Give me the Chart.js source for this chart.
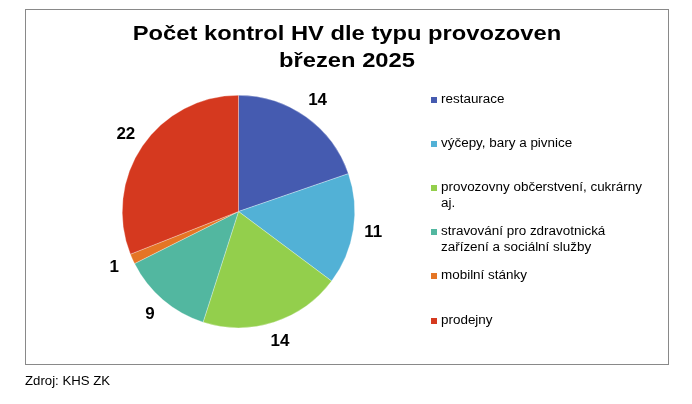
<!DOCTYPE html>
<html>
<head>
<meta charset="utf-8">
<script src="https://cdn.jsdelivr.net/npm/chart.js@4.4.1/dist/chart.umd.min.js"></script>
<style>
  html, body { margin:0; padding:0; background:#fff; }
  body { width:692px; height:404px; position:relative; overflow:hidden; font-family:"Liberation Sans", Arial, sans-serif; }
  #frame { position:absolute; left:25px; top:9px; width:642px; height:354px; border:1px solid #898989; }
  #chart { position:absolute; left:0; top:0; }
  .title { position:absolute; left:347px; top:20px; transform:translateX(-50%) scaleX(1.13); font-weight:bold; font-size:21px; line-height:26.6px; text-align:center; white-space:nowrap; color:#000; }
  .leg-item { position:absolute; left:431px; }
  .leg-box { position:absolute; left:0; width:6px; height:6px; }
  .leg-text { position:absolute; left:10px; width:185px; font-size:12px; line-height:16px; color:#000; transform:scaleX(1.12); transform-origin:left top; }
  .source { position:absolute; left:25px; top:374px; font-size:12px; line-height:14px; transform:scaleX(1.1); transform-origin:left top; color:#000; }
</style>
</head>
<body>
<div id="frame"></div>
<canvas id="chart" width="692" height="404"></canvas>
<div class="title" id="title"></div>
<div id="legend"></div>
<div class="source" id="source"></div>
<script>
const titleLines = ["Počet kontrol HV dle typu provozoven", "březen 2025"];
const categories = ["restaurace", "výčepy, bary a pivnice", "provozovny občerstvení, cukrárny aj.", "stravování pro zdravotnická zařízení a sociální služby", "mobilní stánky", "prodejny"];
const values = [14, 11, 14, 9, 1, 22];
const colors = ["#455BB0", "#52B1D6", "#93CF4C", "#52B7A0", "#E57525", "#D5391F"];
const sourceText = "Zdroj: KHS ZK";

document.getElementById('title').innerHTML = titleLines.join('<br>');
document.getElementById('source').textContent = sourceText;

const legend = document.getElementById('legend');
categories.forEach((c, i) => {
  const cy = 99.5 + 44.2 * i;
  const item = document.createElement('div');
  item.className = 'leg-item';
  item.style.top = cy + 'px';
  const box = document.createElement('div');
  box.className = 'leg-box';
  box.style.top = '-3px';
  box.style.background = colors[i];
  const txt = document.createElement('div');
  txt.className = 'leg-text';
  txt.style.top = '-9px';
  txt.textContent = c;
  item.appendChild(box); item.appendChild(txt);
  legend.appendChild(item);
});

const labelPlugin = {
  id: 'outLabels',
  afterDatasetsDraw(chart) {
    const ctx = chart.ctx;
    const meta = chart.getDatasetMeta(0);
    ctx.save();
    ctx.font = 'bold 16px "Liberation Sans", Arial, sans-serif';
    ctx.fillStyle = '#000';
    ctx.textAlign = 'center';
    ctx.textBaseline = 'middle';
    meta.data.forEach((arc, i) => {
      const p = arc.getProps(['x','y','startAngle','endAngle','outerRadius'], true);
      const mid = (p.startAngle + p.endAngle) / 2;
      const r = p.outerRadius + 20;
      const x = p.x + Math.cos(mid) * r;
      const y = p.y + Math.sin(mid) * r;
      ctx.save();
      ctx.translate(x, y);
      ctx.scale(1.06, 1);
      ctx.fillText(String(values[i]), 0, 0);
      ctx.restore();
    });
    ctx.restore();
  }
};

new Chart(document.getElementById('chart'), {
  type: 'pie',
  data: {
    labels: categories,
    datasets: [{
      data: values,
      backgroundColor: colors,
      borderColor: 'rgba(255,255,255,0.6)',
      borderWidth: 0.5
    }]
  },
  options: {
    responsive: false,
    animation: false,
    devicePixelRatio: 1,
    layout: { padding: { left: 122, right: 337, top: 95, bottom: 76 } },
    plugins: {
      legend: { display: false },
      tooltip: { enabled: false },
      title: { display: false }
    }
  },
  plugins: [labelPlugin]
});
</script>
</body>
</html>
